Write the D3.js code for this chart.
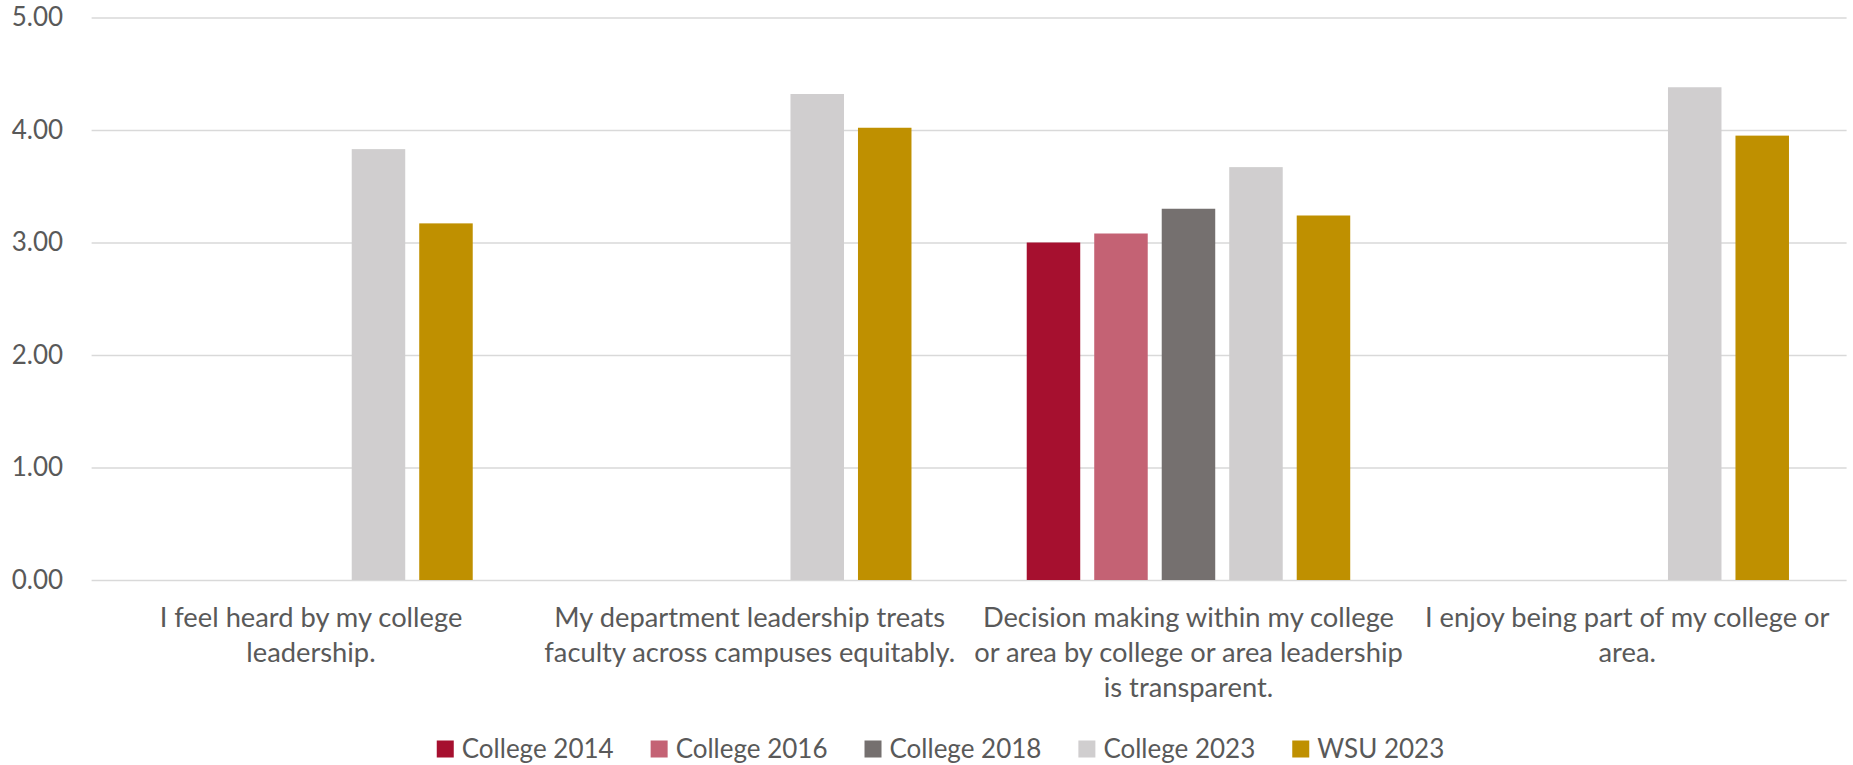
<!DOCTYPE html>
<html><head><meta charset="utf-8">
<script src="https://cdn.jsdelivr.net/npm/d3@7"></script>
<style>
body{margin:0;background:#fff;}
svg{display:block;font-family:Lato, "Open Sans", sans-serif;}
</style>
</head><body>
<svg id="chart" width="1853" height="765"></svg>
<script>
// ---- data ----
const categories = [
  ["I feel heard by my college", "leadership."],
  ["My department leadership treats", "faculty across campuses equitably."],
  ["Decision making within my college", "or area by college or area leadership", "is transparent."],
  ["I enjoy being part of my college or", "area."]
];
const seriesNames = ["College 2014", "College 2016", "College 2018", "College 2023", "WSU 2023"];
const college2014 = [null, null, 3.00, null];
const college2016 = [null, null, 3.08, null];
const college2018 = [null, null, 3.30, null];
const college2023 = [3.83, 4.32, 3.67, 4.38];
const wsu2023     = [3.17, 4.02, 3.24, 3.95];
const yTicks = [0, 1, 2, 3, 4, 5];
const seriesColors = ["#A6102F", "#C46274", "#75706F", "#D0CECF", "#BF9000"];

const seriesValues = [college2014, college2016, college2018, college2023, wsu2023];

// ---- layout ----
const W = 1853, H = 765;
const plotLeft = 91.6, plotRight = 1846.6, plotTop = 17.5, plotBottom = 580;
const fontSize = 27.3;
const legendFontSize = 26;
const textColor = "#595959";

const svg = d3.select("#chart");

const x0 = d3.scaleBand().domain(d3.range(categories.length)).range([plotLeft, plotRight]).padding(0);
const x1 = d3.scaleBand().domain(seriesNames).range([0, x0.bandwidth()])
  .paddingInner(0.2074).paddingOuter(0.8537);
const y = d3.scaleLinear().domain([0, 5]).range([plotBottom, plotTop]);
const color = d3.scaleOrdinal().domain(seriesNames).range(seriesColors);

// gridlines + y labels
const yAxis = d3.axisLeft(y).tickValues(yTicks).tickFormat(d3.format(".2f"))
  .tickSize(-(plotRight - plotLeft)).tickPadding(28.5);
const gy = svg.append("g").attr("transform", `translate(${plotLeft},0)`).call(yAxis);
gy.select(".domain").remove();
gy.selectAll(".tick line").attr("stroke", "#D9D9D9").attr("stroke-width", 1.5);
gy.selectAll(".tick text").attr("fill", textColor).attr("font-size", 26)
  .attr("font-family", "Lato, sans-serif");

// bars
const data = [];
categories.forEach((c, i) => {
  seriesNames.forEach((s, j) => {
    const v = seriesValues[j][i];
    if (v != null) data.push({cat: i, series: s, value: v});
  });
});
svg.append("g").selectAll("rect").data(data).join("rect")
  .attr("x", d => x0(d.cat) + x1(d.series))
  .attr("y", d => y(d.value))
  .attr("width", x1.bandwidth())
  .attr("height", d => y(0) - y(d.value))
  .attr("fill", d => color(d.series));

// category labels
const lineH = 35, firstBaseline = 627;
const cl = svg.append("g").attr("fill", textColor).attr("font-size", fontSize).attr("text-anchor", "middle");
categories.forEach((lines, i) => {
  const t = cl.append("text").attr("x", x0(i) + x0.bandwidth() / 2).attr("y", firstBaseline);
  lines.forEach((ln, k) => {
    t.append("tspan").attr("x", x0(i) + x0.bandwidth() / 2)
      .attr("y", firstBaseline + k * lineH).text(ln);
  });
});

// legend
const sw = 17, swGap = 8, itemGap = 37, legendBaseline = 757.5, legendCenter = 940.5;
const lg = svg.append("g");
const items = lg.selectAll("g").data(seriesNames).join("g");
items.append("rect").attr("width", sw).attr("height", sw)
  .attr("y", legendBaseline - sw).attr("fill", d => color(d));
items.append("text").attr("x", sw + swGap).attr("y", legendBaseline)
  .attr("fill", textColor).attr("font-size", legendFontSize).text(d => d);
let xpos = 0;
const offs = [];
items.each(function () {
  const tw = d3.select(this).select("text").node().getComputedTextLength();
  offs.push(xpos);
  xpos += sw + swGap + tw + itemGap;
});
const total = xpos - itemGap;
items.attr("transform", (d, i) => `translate(${legendCenter - total / 2 + offs[i]},0)`);
</script>
</body></html>
